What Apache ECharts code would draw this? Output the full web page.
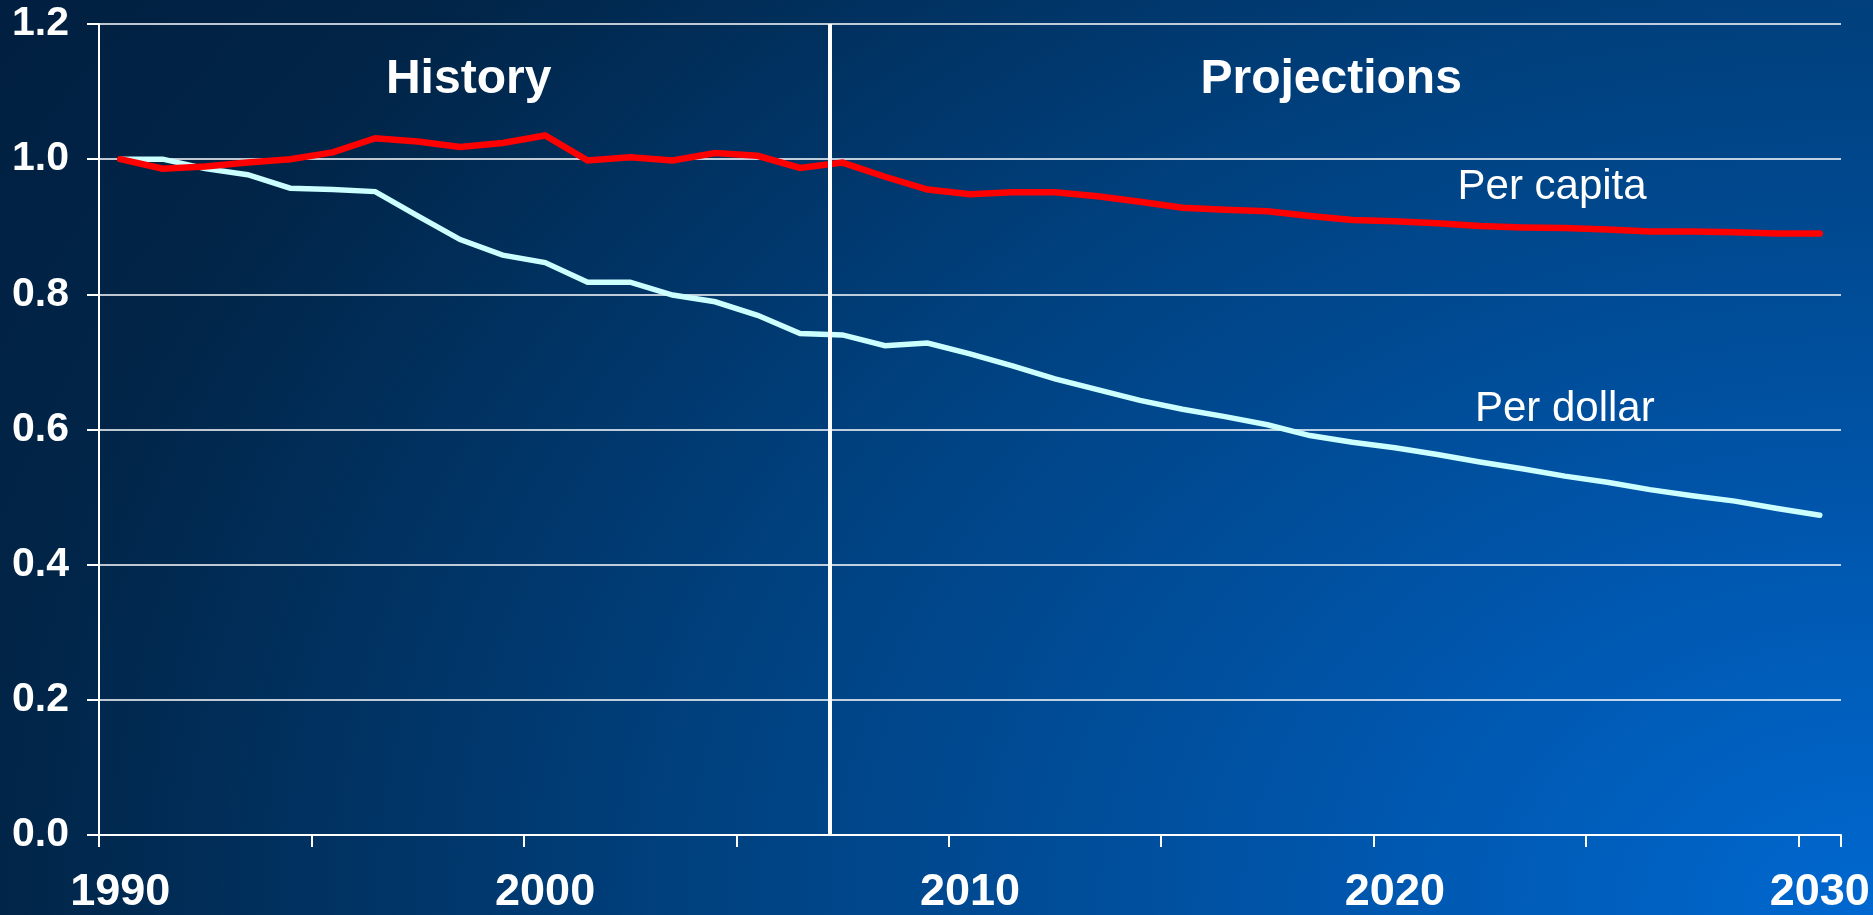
<!DOCTYPE html>
<html>
<head>
<meta charset="utf-8">
<script src="https://cdn.jsdelivr.net/npm/echarts@6/dist/echarts.min.js"></script>
<style>
  html, body { margin: 0; padding: 0; width: 1873px; height: 915px; overflow: hidden; }
  #chart {
    width: 1873px; height: 915px;
    background: radial-gradient(1966px 1464px at 100% 100%, #0068d0 0%, #0054a8 30%, #00417f 60%, #012548 95%, #011f40 115%);
  }
</style>
</head>
<body>
<div id="chart"></div>
<script>
// ---- data ----
const years = [
  1990,1991,1992,1993,1994,1995,1996,1997,1998,1999,
  2000,2001,2002,2003,2004,2005,2006,2007,2008,2009,
  2010,2011,2012,2013,2014,2015,2016,2017,2018,2019,
  2020,2021,2022,2023,2024,2025,2026,2027,2028,2029,2030
];
const perCapita = [
  1.000,0.986,0.989,0.995,1.000,1.010,1.031,1.026,1.018,1.024,
  1.035,0.998,1.003,0.998,1.009,1.005,0.987,0.995,0.974,0.955,
  0.948,0.951,0.951,0.945,0.937,0.928,0.925,0.923,0.916,0.910,
  0.908,0.905,0.901,0.899,0.898,0.896,0.893,0.893,0.892,0.890,0.890
];
const perDollar = [
  1.000,1.000,0.986,0.977,0.957,0.955,0.952,0.916,0.881,0.858,
  0.847,0.818,0.818,0.799,0.789,0.769,0.742,0.740,0.724,0.728,
  0.712,0.694,0.675,0.659,0.643,0.630,0.619,0.607,0.591,0.581,
  0.573,0.563,0.552,0.542,0.531,0.522,0.511,0.502,0.494,0.483,0.473
];
const yTicks = [0, 0.2, 0.4, 0.6, 0.8, 1.0, 1.2];
const seriesNames = ['Per capita', 'Per dollar'];
const dividerYear = 2006.7;            // History / Projections boundary
const annotationTexts  = ['History', 'Projections', 'Per capita', 'Per dollar'];
const annotationYears  = [1998.2, 2018.5, 2023.7, 2024.0];
const annotationValues = [1.118, 1.118, 0.958, 0.629];

// ---- chart ----
const FONT = "'Liberation Sans', Arial, sans-serif";
const chart = echarts.init(document.getElementById('chart'), null, { renderer: 'canvas' });

const headerStyle = { fontSize: 48, fontWeight: 'bold', color: '#ffffff', fontFamily: FONT };
const seriesLabelStyle = { fontSize: 42, fontWeight: 'normal', color: '#ffffff', fontFamily: FONT };

const annotationData = annotationTexts.map((t, i) => ({
  name: t,
  value: [annotationYears[i], annotationValues[i]],
  label: Object.assign({}, i < 2 ? headerStyle : seriesLabelStyle)
}));

chart.setOption({
  animation: false,
  backgroundColor: 'transparent',
  grid: { left: 99, right: 32, top: 24, bottom: 79, containLabel: false },
  xAxis: [
    {
      type: 'category',
      data: years,
      boundaryGap: true,
      axisLine: { lineStyle: { color: '#ffffff', width: 2 } },
      axisTick: { show: true, interval: 4, length: 12, inside: false, lineStyle: { color: '#ffffff', width: 2 } },
      axisLabel: {
        interval: 9, margin: 35, color: '#ffffff', fontSize: 45, fontWeight: 'bold', fontFamily: FONT
      },
      splitLine: { show: false }
    },
    {
      type: 'value',
      min: years[0] - 0.5,
      max: years[years.length - 1] + 0.5,
      show: false,
      splitLine: { show: false }
    }
  ],
  yAxis: {
    type: 'value',
    min: yTicks[0],
    max: yTicks[yTicks.length - 1],
    interval: 0.2,
    axisLine: { show: true, lineStyle: { color: '#ffffff', width: 2 } },
    axisTick: { show: true, length: 12, lineStyle: { color: '#ffffff', width: 2 } },
    axisLabel: {
      margin: 30, color: '#ffffff', fontSize: 41, fontWeight: 'bold', fontFamily: FONT,
      formatter: v => v.toFixed(1)
    },
    splitLine: { show: true, lineStyle: { color: '#ffffff', width: 1.5 } }
  },
  series: [
    {
      name: seriesNames[1],
      type: 'line',
      data: perDollar,
      showSymbol: false,
      symbol: 'none',
      lineStyle: { color: '#ccffff', width: 5.5, cap: 'round', join: 'miter' },
      z: 3
    },
    {
      name: seriesNames[0],
      type: 'line',
      data: perCapita,
      showSymbol: false,
      symbol: 'none',
      lineStyle: { color: '#ff0000', width: 6.5, cap: 'round', join: 'miter' },
      z: 4
    },
    {
      name: 'annotations',
      type: 'scatter',
      xAxisIndex: 1,
      yAxisIndex: 0,
      symbolSize: 1,
      itemStyle: { color: 'rgba(0,0,0,0)', opacity: 1 },
      label: {
        show: true, position: 'inside', formatter: p => p.name, align: 'center', verticalAlign: 'middle',
        textBorderWidth: 0, opacity: 1
      },
      data: annotationData,
      silent: true,
      z: 5,
      markLine: {
        silent: true,
        symbol: ['none', 'none'],
        label: { show: false },
        lineStyle: { color: '#ffffff', width: 4, type: 'solid', opacity: 1 },
        data: [{ xAxis: dividerYear }]
      }
    }
  ]
});
</script>
</body>
</html>
